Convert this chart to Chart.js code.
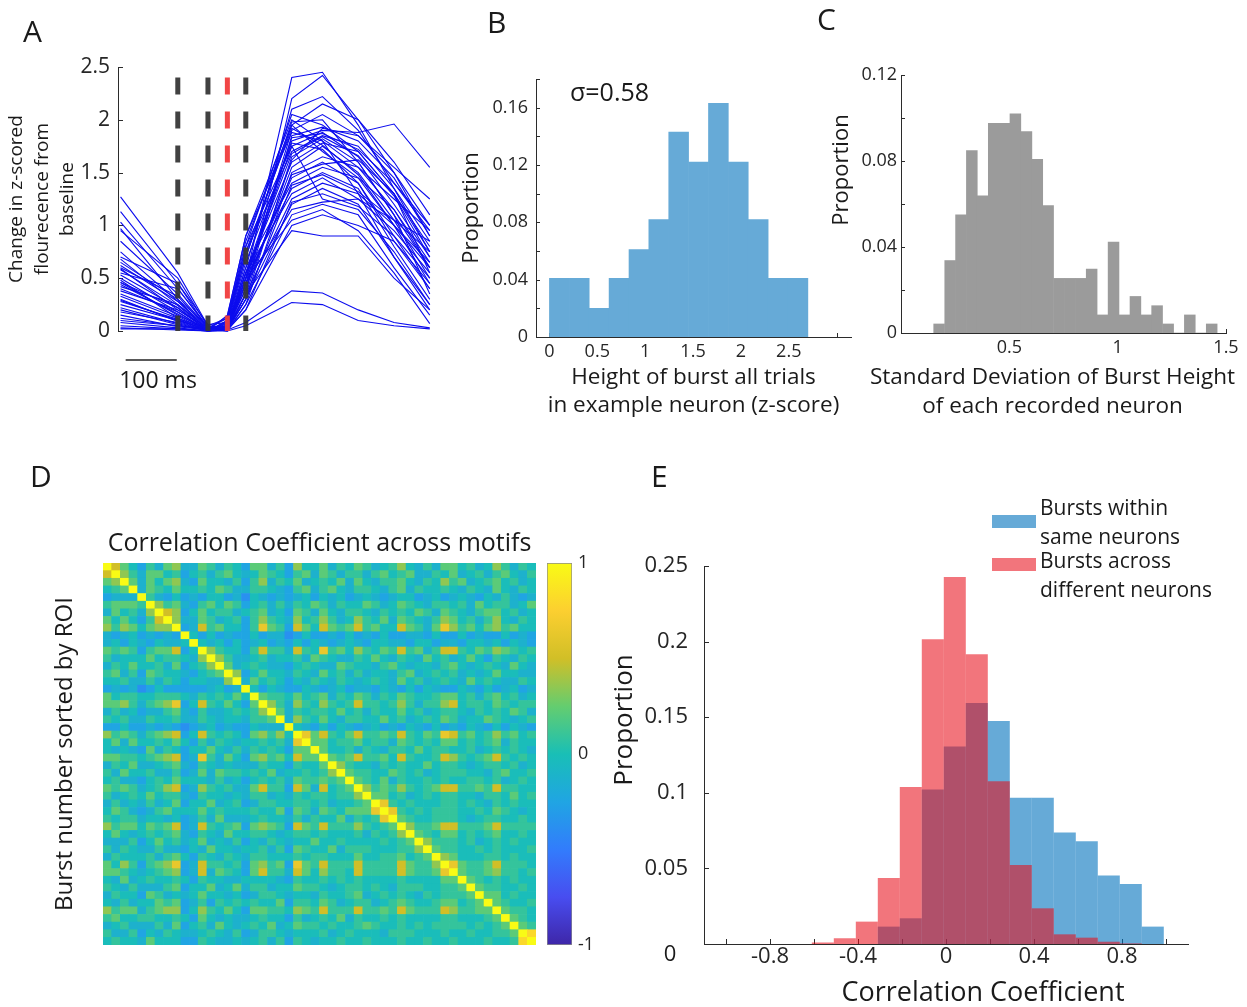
<!DOCTYPE html>
<html>
<head>
<meta charset="utf-8">
<script src="https://cdn.jsdelivr.net/npm/chart.js@4.4.1/dist/chart.umd.min.js"></script>
<style>
  html, body { margin: 0; padding: 0; background: #fff; }
  #fig { position: relative; width: 1247px; height: 1007px; overflow: hidden; }
  #fig canvas { position: absolute; }
</style>
</head>
<body>
<div id="fig">
  <canvas id="cA" width="450" height="400" style="left:0;top:0"></canvas>
  <canvas id="cB" width="415" height="430" style="left:440px;top:0"></canvas>
  <canvas id="cC" width="437" height="430" style="left:810px;top:0"></canvas>
  <canvas id="cD" width="545" height="520" style="left:0;top:450px"></canvas>
  <canvas id="cBar" width="70" height="430" style="left:540px;top:540px"></canvas>
  <canvas id="cE" width="647" height="567" style="left:600px;top:440px"></canvas>
</div>
<script>
// ---- panel A: z-scored traces (ms after start of window) ----
const A_TIMES = [5, 117, 176, 214, 250, 340, 400, 470, 540, 610];
const A_TRACES = [
  [1.27, 0.55, 0.05, 0.02, 0.50, 2.40, 2.45, 1.95, 1.35, 0.75],
  [1.13, 0.45, 0.02, 0.00, 0.35, 2.20, 2.42, 2.00, 1.50, 1.00],
  [1.03, 0.40, 0.03, 0.05, 0.60, 2.10, 2.22, 1.90, 1.40, 0.95],
  [0.97, 0.30, 0.00, 0.08, 0.70, 1.95, 2.15, 2.00, 1.60, 1.10],
  [0.68, 0.25, 0.02, 0.00, 0.45, 1.90, 2.05, 1.85, 1.55, 1.25],
  [0.65, 0.30, 0.05, 0.12, 0.80, 2.05, 1.95, 1.70, 1.30, 0.80],
  [0.59, 0.20, 0.01, 0.03, 0.40, 1.85, 1.93, 1.80, 1.45, 0.90],
  [0.53, 0.22, 0.00, 0.05, 0.55, 1.80, 1.90, 1.88, 1.96, 1.55],
  [0.46, 0.15, 0.02, 0.02, 0.50, 1.75, 1.88, 1.65, 1.20, 0.70],
  [0.40, 0.18, 0.00, 0.10, 0.75, 1.70, 1.85, 1.75, 1.35, 0.85],
  [0.29, 0.10, 0.01, 0.02, 0.30, 1.65, 1.82, 1.60, 1.10, 0.60],
  [0.18, 0.08, 0.00, 0.15, 0.90, 1.88, 1.80, 1.55, 1.15, 0.65],
  [0.12, 0.05, 0.02, 0.04, 0.55, 1.60, 1.78, 1.70, 1.30, 0.55],
  [0.02, 0.02, 0.00, 0.03, 0.40, 1.55, 1.75, 1.50, 1.05, 0.50],
  [0.85, 0.35, 0.03, 0.12, 0.85, 1.95, 1.70, 1.45, 1.00, 0.45],
  [0.75, 0.28, 0.00, 0.01, 0.25, 1.50, 1.65, 1.55, 1.25, 0.95],
  [0.55, 0.40, 0.04, 0.03, 0.45, 1.45, 1.60, 1.40, 0.90, 0.40],
  [0.48, 0.12, 0.00, 0.06, 0.60, 1.40, 1.55, 1.45, 1.15, 0.60],
  [0.42, 0.25, 0.02, 0.04, 0.50, 1.35, 1.50, 1.35, 0.80, 0.30],
  [0.35, 0.14, 0.00, 0.05, 0.55, 1.30, 1.45, 1.25, 0.95, 0.55],
  [0.25, 0.10, 0.01, 0.02, 0.35, 1.25, 1.40, 1.30, 1.00, 0.65],
  [0.20, 0.06, 0.00, 0.10, 0.80, 1.75, 1.25, 1.15, 0.75, 0.25],
  [0.60, 0.33, 0.02, 0.01, 0.30, 1.20, 1.35, 1.20, 0.70, 0.20],
  [0.50, 0.18, 0.00, 0.03, 0.45, 1.15, 1.22, 1.25, 1.05, 0.75],
  [0.38, 0.20, 0.03, 0.00, 0.25, 1.10, 1.20, 1.10, 0.60, 0.15],
  [0.30, 0.09, 0.00, 0.04, 0.50, 1.05, 1.15, 0.95, 0.55, 0.07],
  [0.15, 0.04, 0.01, 0.01, 0.20, 1.00, 1.10, 1.00, 0.85, 0.45],
  [0.08, 0.03, 0.00, 0.02, 0.35, 0.95, 0.90, 0.90, 0.50, 0.20],
  [0.05, 0.02, 0.00, 0.01, 0.08, 0.38, 0.36, 0.20, 0.08, 0.03],
  [0.03, 0.01, 0.00, 0.00, 0.05, 0.27, 0.25, 0.10, 0.05, 0.02],
  [0.70, 0.45, 0.06, 0.08, 0.70, 1.98, 2.00, 1.60, 1.10, 0.35],
  [0.44, 0.16, 0.00, 0.03, 0.50, 1.83, 1.87, 1.72, 1.40, 1.00],
  [0.33, 0.12, 0.02, 0.14, 0.90, 2.00, 1.80, 1.30, 0.70, 0.25],
  [0.58, 0.24, 0.00, 0.02, 0.35, 1.62, 1.92, 1.85, 1.50, 0.90],
  [0.22, 0.07, 0.00, 0.07, 0.65, 1.78, 1.72, 1.40, 0.85, 0.40],
  [0.95, 0.50, 0.04, 0.04, 0.55, 1.68, 1.84, 1.66, 1.28, 0.70],
  [0.10, 0.05, 0.01, 0.01, 0.20, 1.22, 1.30, 1.18, 0.90, 0.50],
  [0.46, 0.22, 0.00, 0.03, 0.45, 1.48, 1.58, 1.62, 1.30, 0.75],
  [0.28, 0.11, 0.00, 0.09, 0.75, 1.92, 1.76, 1.48, 1.00, 0.60],
  [0.62, 0.28, 0.03, 0.01, 0.30, 1.38, 1.48, 1.32, 1.05, 0.85]
];
const A_MARKERS = [117, 176, 214, 250];
const A_MARKER_KIND = ['k', 'k', 'r', 'k'];
const A_MARKER_TOP = 2.4;
const A_SCALEBAR_MS = [15, 115];
const A_Y_TICKS = [0, 0.5, 1, 1.5, 2, 2.5];
const A_Y_LABELS = ['0', '0.5', '1', '1.5', '2', '2.5'];

// ---- panel B: burst heights, one neuron ----
const B_CENTERS = [0.104, 0.312, 0.519, 0.727, 0.935, 1.142, 1.350, 1.558, 1.765, 1.973, 2.181, 2.388, 2.596];
const B_PROPS = [0.041, 0.041, 0.020, 0.041, 0.061, 0.082, 0.143, 0.122, 0.163, 0.122, 0.082, 0.041, 0.041];
const B_X_TICKS = [0, 0.5, 1, 1.5, 2, 2.5, 3];
const B_X_LABELS = ['0', '0.5', '1', '1.5', '2', '2.5', ''];
const B_Y_TICKS = [0, 0.02, 0.04, 0.06, 0.08, 0.10, 0.12, 0.14, 0.16, 0.18];
const B_Y_LABELS = ['0', '', '0.04', '', '0.08', '', '0.12', '', '0.16', ''];

// ---- panel C: SD of burst height per neuron ----
const C_CENTERS = [0.176, 0.227, 0.277, 0.327, 0.377, 0.428, 0.478, 0.528, 0.579, 0.629, 0.679, 0.730, 0.780,
                   0.830, 0.880, 0.931, 0.981, 1.031, 1.082, 1.132, 1.182, 1.233, 1.283, 1.333, 1.384, 1.434];
const C_PROPS = [0.0042, 0.0337, 0.055, 0.0848, 0.0638, 0.0975, 0.0975, 0.1019, 0.0937, 0.0808, 0.0593, 0.0254, 0.0254,
                 0.0254, 0.0297, 0.0084, 0.0423, 0.0084, 0.017, 0.0084, 0.0127, 0.0042, 0, 0.0084, 0, 0.0042];
const C_X_TICKS = [0.5, 1, 1.5];
const C_X_LABELS = ['0.5', '1', '1.5'];
const C_Y_TICKS = [0, 0.02, 0.04, 0.06, 0.08, 0.10, 0.12];
const C_Y_LABELS = ['0', '', '0.04', '', '0.08', '', '0.12'];

// ---- panel D: correlation matrix (upper triangle, 50 x 50 blocks) ----
const D_LEVELS = { '0': -0.38, '1': -0.25, '2': -0.13, '3': -0.02, '4': 0.09, '5': 0.22, '6': 0.35, '7': 0.5, '8': 0.64, '9': 0.8, 'X': 1 };
const D_UPPER = [
  "X753142562 2542431552 4163352435 4234632425 5342364243",
  ".X64255341 3424532354 3145254244 2453452243 5234245324",
  "..X5253562 1533241462 4352343525 3244532436 4523453423",
  "...X254353 3435422443 2145245324 4324524334 3243253243",
  "....X42131 2133120321 2123132312 3212331231 2321324212",
  ".....X6452 1453541342 4243542433 5423543244 3425344235",
  "......X761 3534423452 3154253244 3243435425 4324553423",
  ".......X62 2542341464 3263464236 4352543246 5342463243",
  "........X1 2745331485 4175375457 4533754258 6453564533",
  ".........X 3131211312 2013112131 2131122131 1312113121",
  ".......... X323131231 2131321232 1332213312 2133231321",
  ".......... .X64331474 4274384536 4354745247 7435465434",
  ".......... ..X6422342 3342543224 3532432534 2353143243",
  ".......... ...X523432 2134322543 3245323324 5323432532",
  ".......... ....X61353 3243253424 2332452343 4232353322",
  ".......... .....X2534 3132432432 3432534234 3253432243",
  ".......... ......X313 2113212312 2132131321 1321312312",
  ".......... .......X54 4353452435 4243543345 5342453423",
  ".......... ........X6 4264364347 4434642446 7344354344",
  ".......... .........X 5243443534 2433534234 4324343542",
  ".......... .......... X264353244 3353423435 4233543234",
  ".......... .......... .X32131321 2312132131 2132131321",
  ".......... .......... ..X8574357 4454743548 7453464534",
  ".......... .......... ...X553445 3442543435 5343452433",
  ".......... .......... ....X53342 4324435344 3342343432",
  ".......... .......... .....X5457 4453743347 6434574343",
  ".......... .......... ......X643 3243433534 4323443423",
  ".......... .......... .......X54 4335434234 4433245334",
  ".......... .......... ........X5 4352433434 3344342343",
  ".......... .......... .........X 6454643457 7445474433",
  ".......... .......... .......... X553423434 4332443534",
  ".......... .......... .......... .X84343334 4343243433",
  ".......... .......... .......... ..X8434344 4334354323",
  ".......... .......... .......... ...X543344 4323443343",
  ".......... .......... .......... ....X64457 7444574444",
  ".......... .......... .......... .....X5435 5343453343",
  ".......... .......... .......... ......X644 4342343433",
  ".......... .......... .......... .......X54 4334343334",
  ".......... .......... .......... ........X6 5333443433",
  ".......... .......... .......... .........X 8544574443",
  ".......... .......... .......... .......... X544564434",
  ".......... .......... .......... .......... .X54343433",
  ".......... .......... .......... .......... ..X5443343",
  ".......... .......... .......... .......... ...X553433",
  ".......... .......... .......... .......... ....X54334",
  ".......... .......... .......... .......... .....X5443",
  ".......... .......... .......... .......... ......X543",
  ".......... .......... .......... .......... .......X54",
  ".......... .......... .......... .......... ........X9",
  ".......... .......... .......... .......... .........X"
];
const CB_TICKS = [-1, 0, 1];
const CB_LABELS = ['-1', '0', '1'];
const PARULA = ['#3e26a8', '#484df0', '#327cfc', '#20a5e3', '#19bfb6', '#64cd6f', '#d1bf27', '#fccf30', '#f9fb15'];

// ---- panel E: correlation coefficient histograms ----
const E_CENTERS = [-0.56, -0.46, -0.36, -0.26, -0.16, -0.06, 0.04, 0.14, 0.24, 0.34, 0.44, 0.54, 0.64, 0.74, 0.84, 0.94];
const E_WITHIN = [0, 0, 0, 0.0115, 0.017, 0.1022, 0.1307, 0.1594, 0.1475, 0.0967, 0.0967, 0.0737, 0.068, 0.0453, 0.0397, 0.0115];
const E_ACROSS = [0.001, 0.0038, 0.0148, 0.0437, 0.1038, 0.2015, 0.2428, 0.1916, 0.1077, 0.0523, 0.0236, 0.0064, 0.0042, 0.0015, 0.0004, 0];
const E_X_TICKS = [-1, -0.8, -0.6, -0.4, -0.2, 0, 0.2, 0.4, 0.6, 0.8, 1];
const E_X_LABELS = ['', '-0.8', '', '-0.4', '', '0', '', '0.4', '', '0.8', ''];
const E_Y_TICKS = [0, 0.05, 0.1, 0.15, 0.2, 0.25];
const E_Y_LABELS = ['', '0.05', '0.1', '0.15', '0.2', '0.25'];

const FONT = '"Open Sans", "Noto Sans", sans-serif';
const INK = '#1a1a1a';
const AXIS = '#2b2b2b';
Chart.defaults.font.family = FONT;
Chart.defaults.color = '#262626';

// tick marks pointing into the plot, as in the original figure
const inTicks = {
  id: 'inTicks',
  beforeDatasetsDraw(chart, args, o) {
    const ctx = chart.ctx, a = chart.chartArea;
    ctx.save();
    ctx.strokeStyle = AXIS;
    ctx.lineWidth = 1;
    (o.axes || []).forEach(id => {
      const s = chart.scales[id];
      s.ticks.forEach(t => {
        const p = Math.round(s.getPixelForValue(t.value)) + 0.5;
        ctx.beginPath();
        if (s.isHorizontal()) { ctx.moveTo(p, a.bottom); ctx.lineTo(p, a.bottom - o.len); }
        else { ctx.moveTo(a.left, p); ctx.lineTo(a.left + o.len, p); }
        ctx.stroke();
      });
    });
    ctx.restore();
  }
};

// free text: panel letters, annotations, axis titles that sit off-centre
const textLayer = {
  id: 'textLayer',
  afterDraw(chart, args, o) {
    const ctx = chart.ctx;
    (o.items || []).forEach(it => {
      ctx.save();
      ctx.font = `${it.size}px ${FONT}`;
      ctx.fillStyle = it.color || INK;
      ctx.textAlign = it.align || 'center';
      ctx.textBaseline = it.base || 'middle';
      ctx.translate(it.x, it.y);
      if (it.rot) ctx.rotate(it.rot);
      ctx.fillText(it.t, 0, 0);
      ctx.restore();
    });
  }
};

// time scale bar for panel A, placed with the x scale
const scaleBar = {
  id: 'scaleBar',
  afterDraw(chart, args, o) {
    if (!o.range) return;
    const s = chart.scales.x, ctx = chart.ctx;
    const x0 = s.getPixelForValue(o.range[0]), x1 = s.getPixelForValue(o.range[1]);
    ctx.save();
    ctx.strokeStyle = '#222';
    ctx.lineWidth = 1.5;
    ctx.beginPath();
    ctx.moveTo(x0, o.y);
    ctx.lineTo(x1, o.y);
    ctx.stroke();
    ctx.restore();
  }
};

// box legend with two-line labels for panel E
const boxLegend = {
  id: 'boxLegend',
  afterDraw(chart, args, o) {
    if (!o.items) return;
    const ctx = chart.ctx;
    ctx.save();
    o.items.forEach(it => {
      const ds = chart.data.datasets[it.ds];
      ctx.fillStyle = ds.backgroundColor;
      ctx.fillRect(o.x, it.by, o.w, o.h);
      ctx.font = `${o.size}px ${FONT}`;
      ctx.fillStyle = INK;
      ctx.textAlign = 'left';
      ctx.textBaseline = 'middle';
      ds.label.forEach((line, k) => ctx.fillText(line, o.tx, it.ty + k * o.lh));
    });
    ctx.restore();
  }
};

function fixedTicks(values, labels, size, pad) {
  return {
    afterBuildTicks: s => { s.ticks = values.map(v => ({ value: v })); },
    ticks: { autoSkip: false, maxRotation: 0, minRotation: 0, padding: pad, font: { size }, color: '#262626',
             callback: (v, i) => labels[i] }
  };
}
const noGrid = { display: false, drawTicks: false };
const border = { display: true, color: AXIS, width: 1 };

function parula(v) {
  const t = Math.min(1, Math.max(0, (v + 1) / 2)) * (PARULA.length - 1);
  const i = Math.min(PARULA.length - 2, Math.floor(t));
  const f = t - i;
  const a = PARULA[i], b = PARULA[i + 1];
  const ch = (h, k) => parseInt(h.substr(1 + 2 * k, 2), 16);
  const c = [0, 1, 2].map(k => Math.round(ch(a, k) + (ch(b, k) - ch(a, k)) * f));
  return `rgb(${c[0]},${c[1]},${c[2]})`;
}

// ================= A =================
const markerSets = A_MARKERS.map((t, i) => ({
  data: [{ x: t, y: A_MARKER_TOP }, { x: t, y: 0 }],
  borderColor: A_MARKER_KIND[i] === 'r' ? 'rgba(240,60,60,0.95)' : 'rgba(55,55,55,0.95)',
  borderWidth: 5, borderDash: [17, 17], borderCapStyle: 'butt',
  pointRadius: 0, clip: false
}));
const traceSets = A_TRACES.map(vals => ({
  data: vals.map((v, i) => ({ x: A_TIMES[i], y: v })),
  borderColor: 'rgb(12,12,238)', borderWidth: 1.1, pointRadius: 0, tension: 0, clip: false
}));
new Chart(document.getElementById('cA'), {
  type: 'line',
  data: { datasets: [...markerSets, ...traceSets] },
  options: {
    responsive: false, animation: false, devicePixelRatio: 1,
    layout: { padding: { left: 4, top: 67, right: 10, bottom: 69 } },
    scales: {
      x: { type: 'linear', min: 0, max: 630, display: false },
      y: {
        type: 'linear', min: 0, max: 2.5, grid: noGrid, border,
        ...fixedTicks(A_Y_TICKS, A_Y_LABELS, 21, 8),
        title: { display: true, text: ['Change in z-scored', 'flourecence from', 'baseline'],
                 font: { size: 19, lineHeight: 1.34 }, color: INK, padding: { top: 0, bottom: 0 } },
        afterFit: s => { s.width = 114; }
      }
    },
    plugins: {
      legend: { display: false }, tooltip: { enabled: false },
      inTicks: { axes: ['y'], len: 5 },
      scaleBar: { range: A_SCALEBAR_MS, y: 360 },
      textLayer: { items: [
        { t: 'A', x: 23, y: 42, size: 30, align: 'left', base: 'alphabetic' },
        { t: '100 ms', x: 158, y: 381, size: 23 }
      ] }
    }
  },
  plugins: [inTicks, scaleBar, textLayer]
});

// ================= B =================
new Chart(document.getElementById('cB'), {
  type: 'bar',
  data: { datasets: [{
    data: B_CENTERS.map((c, i) => ({ x: c, y: B_PROPS[i] })),
    backgroundColor: '#66aad7', borderWidth: 0, barPercentage: 1, categoryPercentage: 1
  }] },
  options: {
    responsive: false, animation: false, devicePixelRatio: 1,
    layout: { padding: { left: 0, top: 79, right: 4, bottom: 10 } },
    scales: {
      x: {
        type: 'linear', min: -0.14, max: 3.15, offset: false, grid: noGrid, border,
        ...fixedTicks(B_X_TICKS, B_X_LABELS, 18, 4),
        title: { display: true, text: ['Height of burst all trials', 'in example neuron (z-score)'],
                 font: { size: 22.5, lineHeight: 28 / 22.5 }, color: INK, padding: { top: 0, bottom: 0 } },
        afterFit: s => { s.height = 83; }
      },
      y: {
        type: 'linear', min: 0, max: 0.18, grid: noGrid, border,
        ...fixedTicks(B_Y_TICKS, B_Y_LABELS, 18, 8),
        title: { display: true, text: 'Proportion', font: { size: 22, lineHeight: 1.2 }, color: INK,
                 padding: { top: 19, bottom: 0 } },
        afterFit: s => { s.width = 96; }
      }
    },
    plugins: {
      legend: { display: false }, tooltip: { enabled: false },
      inTicks: { axes: ['x', 'y'], len: 4 },
      textLayer: { items: [
        { t: 'B', x: 47, y: 33, size: 30, align: 'left', base: 'alphabetic' },
        { t: 'σ=0.58', x: 130, y: 101, size: 25, align: 'left', base: 'alphabetic' }
      ] }
    }
  },
  plugins: [inTicks, textLayer]
});

// ================= C =================
new Chart(document.getElementById('cC'), {
  type: 'bar',
  data: { datasets: [{
    data: C_CENTERS.map((c, i) => ({ x: c, y: C_PROPS[i] })),
    backgroundColor: '#9b9b9b', borderWidth: 0, barPercentage: 1, categoryPercentage: 1
  }] },
  options: {
    responsive: false, animation: false, devicePixelRatio: 1,
    layout: { padding: { left: 0, top: 75, right: 21, bottom: 9 } },
    scales: {
      x: {
        type: 'linear', min: 0, max: 1.5, offset: false, grid: noGrid, border,
        ...fixedTicks(C_X_TICKS, C_X_LABELS, 18, 4),
        afterFit: s => { s.height = 88; }
      },
      y: {
        type: 'linear', min: 0, max: 0.12, grid: noGrid, border,
        ...fixedTicks(C_Y_TICKS, C_Y_LABELS, 18, 4),
        afterFit: s => { s.width = 91; }
      }
    },
    plugins: {
      legend: { display: false }, tooltip: { enabled: false },
      inTicks: { axes: ['x', 'y'], len: 4 },
      textLayer: { items: [
        { t: 'C', x: 7, y: 30, size: 30, align: 'left', base: 'alphabetic' },
        { t: 'Proportion', x: 31.5, y: 170, size: 22, rot: -Math.PI / 2 },
        { t: 'Standard Deviation of Burst Height', x: 242.5, y: 378, size: 22.5 },
        { t: 'of each recorded neuron', x: 242.5, y: 407, size: 22.5 }
      ] }
    }
  },
  plugins: [inTicks, textLayer]
});

// ================= D =================
const D_ROWS = D_UPPER.map(r => r.replace(/ /g, ''));
const D_N = D_ROWS.length;
const D_M = D_ROWS.map(() => new Array(D_N).fill(0));
D_ROWS.forEach((r, i) => {
  for (let j = i; j < D_N; j++) {
    const v = D_LEVELS[r[j]];
    D_M[i][j] = v;
    D_M[j][i] = v;
  }
});
const D_CELLS = [];
D_M.forEach((row, i) => row.forEach((v, j) => D_CELLS.push({ x: j, y: [i, i + 1], v })));

new Chart(document.getElementById('cD'), {
  type: 'bar',
  data: { datasets: [{
    data: D_CELLS,
    backgroundColor: c => parula(c.raw ? c.raw.v : 0),
    borderWidth: 0, barPercentage: 1, categoryPercentage: 1, grouped: false
  }] },
  options: {
    responsive: false, animation: false, devicePixelRatio: 1,
    layout: { padding: { left: 0, top: 0, right: 9, bottom: 25 } },
    scales: {
      x: { type: 'linear', min: -0.5, max: D_N - 0.5, offset: false, display: false },
      y: {
        type: 'linear', min: 0, max: D_N, reverse: true, grid: noGrid, border: { display: false },
        ticks: { display: false },
        title: { display: true, text: 'Burst number sorted by ROI', font: { size: 24, lineHeight: 1.2 },
                 color: INK, padding: { top: 50.6, bottom: 0 } },
        afterFit: s => { s.width = 103; }
      }
    },
    plugins: {
      legend: { display: false }, tooltip: { enabled: false },
      title: { display: true, text: 'Correlation Coefficient across motifs', fullSize: false,
               font: { size: 25, weight: 'normal', lineHeight: 1.2 }, color: INK,
               padding: { top: 78.6, bottom: 4.4 } },
      textLayer: { items: [
        { t: 'D', x: 30, y: 37, size: 30, align: 'left', base: 'alphabetic' }
      ] }
    }
  },
  plugins: [textLayer]
});

// colour bar
new Chart(document.getElementById('cBar'), {
  type: 'bar',
  data: { labels: [''], datasets: [{
    data: [[CB_TICKS[0], CB_TICKS[CB_TICKS.length - 1]]],
    backgroundColor: c => {
      const a = c.chart.chartArea;
      if (!a || !isFinite(a.top) || !isFinite(a.bottom)) return PARULA[4];
      const g = c.chart.ctx.createLinearGradient(0, a.bottom, 0, a.top);
      PARULA.forEach((col, i) => g.addColorStop(i / (PARULA.length - 1), col));
      return g;
    },
    borderColor: '#8c8c8c', borderWidth: 1, borderSkipped: false,
    barPercentage: 1, categoryPercentage: 1
  }] },
  options: {
    responsive: false, animation: false, devicePixelRatio: 1,
    layout: { padding: { left: 7, top: 23, right: 0, bottom: 25 } },
    scales: {
      x: { display: false },
      y: {
        type: 'linear', position: 'right', min: -1, max: 1, grid: noGrid, border: { display: false },
        ...fixedTicks(CB_TICKS, CB_LABELS, 18, 6),
        afterFit: s => { s.width = 38; }
      }
    },
    plugins: { legend: { display: false }, tooltip: { enabled: false } }
  }
});

// ================= E =================
new Chart(document.getElementById('cE'), {
  type: 'bar',
  data: { datasets: [
    { label: ['Bursts across', 'different neurons'],
      data: E_CENTERS.map((c, i) => ({ x: c, y: E_ACROSS[i] })),
      backgroundColor: 'rgba(232,13,25,0.57)', borderWidth: 0, inflateAmount: 0,
      barPercentage: 1, categoryPercentage: 1, grouped: false },
    { label: ['Bursts within', 'same neurons'],
      data: E_CENTERS.map((c, i) => ({ x: c, y: E_WITHIN[i] })),
      backgroundColor: 'rgba(0,114,189,0.6)', borderWidth: 0, inflateAmount: 0,
      barPercentage: 1, categoryPercentage: 1, grouped: false }
  ] },
  options: {
    responsive: false, animation: false, devicePixelRatio: 1,
    layout: { padding: { left: 0, top: 126, right: 59, bottom: 0 } },
    scales: {
      x: {
        type: 'linear', min: -1.1, max: 1.1, offset: false, grid: noGrid, border,
        ...fixedTicks(E_X_TICKS, E_X_LABELS, 22, 0),
        afterFit: s => { s.height = 63; }
      },
      y: {
        type: 'linear', min: 0, max: 0.25, grid: noGrid, border,
        ...fixedTicks(E_Y_TICKS, E_Y_LABELS, 22, 16),
        afterFit: s => { s.width = 104; }
      }
    },
    plugins: {
      legend: { display: false }, tooltip: { enabled: false },
      inTicks: { axes: ['x', 'y'], len: 5 },
      boxLegend: { x: 392, w: 44, h: 13, tx: 440, lh: 29, size: 21,
                   items: [{ ds: 1, by: 75, ty: 69 }, { ds: 0, by: 118, ty: 122 }] },
      textLayer: { items: [
        { t: 'E', x: 51, y: 47, size: 30, align: 'left', base: 'alphabetic' },
        { t: '0', x: 70, y: 515, size: 22 },
        { t: 'Proportion', x: 24.5, y: 280, size: 26, rot: -Math.PI / 2 },
        { t: 'Correlation Coefficient', x: 383, y: 553, size: 27 }
      ] }
    }
  },
  plugins: [inTicks, boxLegend, textLayer]
});
</script>
</body>
</html>
